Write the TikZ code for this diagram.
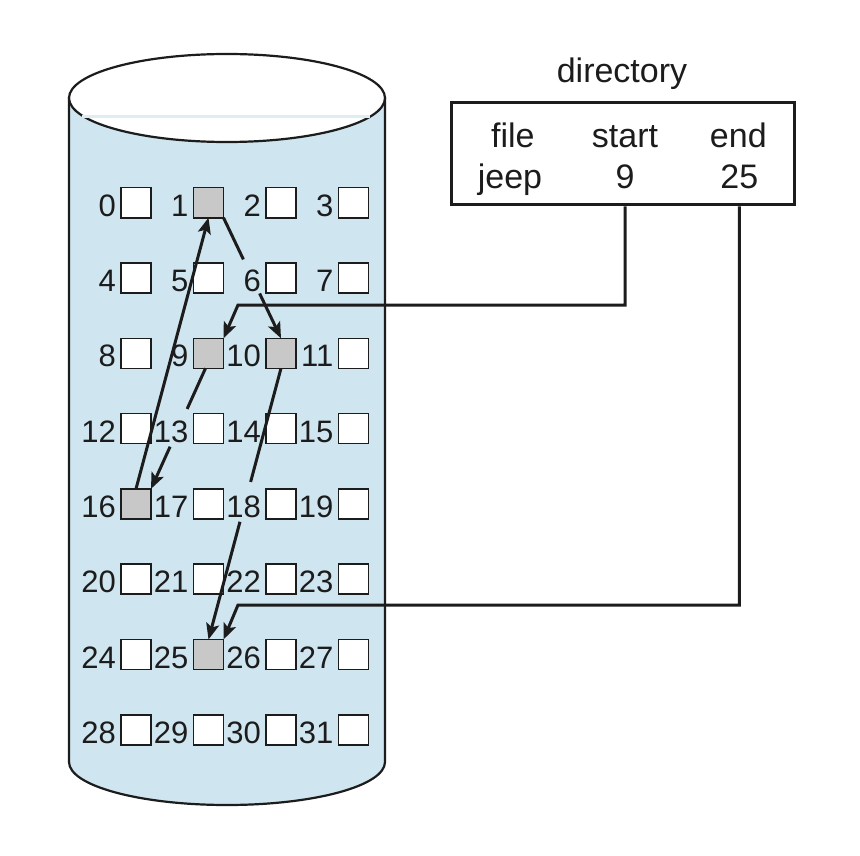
\documentclass[tikz,border=0pt]{standalone}
\usepackage{fontspec}
\setmainfont{Liberation Sans}
\usetikzlibrary{arrows.meta,calc}
\definecolor{cylblue}{RGB}{207,229,239}
\definecolor{cylline}{RGB}{222,237,244}
\definecolor{cellgray}{RGB}{200,200,200}
\definecolor{ink}{RGB}{28,28,28}
\tikzset{
  cell/.style={draw=ink, line width=1.6pt, fill=white, minimum size=30pt, inner sep=0pt, outer sep=0pt},
  used/.style={fill=cellgray},
  numlabel/.style={font=\fontsize{31}{36}\selectfont, text=ink, inner sep=0pt, anchor=base east},
  dirtext/.style={font=\fontsize{34}{40}\selectfont, text=ink, inner sep=0pt, anchor=base},
  linkline/.style={draw=ink, line width=3pt},
  link/.style={linkline, -{Stealth[length=16pt,width=13pt,inset=3.5pt]}},
}
\begin{document}
\begin{tikzpicture}[x=1pt,y=-1pt]
\useasboundingbox (0,0) rectangle (860,856);
% cylinder body
\draw[fill=cylblue, draw=ink, line width=2.2pt]
  (385,98) -- (385,762) arc[start angle=0, end angle=-180, x radius=158pt, y radius=43pt] -- (69,98) -- cycle;
% top
\draw[fill=white, draw=ink, line width=2.2pt] (227,98) ellipse [x radius=158pt, y radius=44pt];
\draw[draw=cylline, line width=3pt] (82,117) -- (370,117);
% cells
\foreach \i in {0,...,31}{
  \pgfmathtruncatemacro{\c}{mod(\i,4)}
  \pgfmathtruncatemacro{\r}{int(\i/4)}
  \pgfmathsetmacro{\cx}{136+72.5*\c}
  \pgfmathsetmacro{\cy}{202.7+75.3*\r}
  \node[cell] (b\i) at (\cx,\cy) {};
  \node[numlabel, xshift=-5pt, yshift=1.5pt] (l\i) at (b\i.south west) {\i};
}
\foreach \i in {1,9,10,16,25}{ \node[cell,used] at (b\i) {}; }
% directory
\node[dirtext] (dirtitle) at (622,83) {directory};
\node[draw=ink, line width=3pt, minimum width=343pt, minimum height=102pt, inner sep=0pt] (dir) at (622.85,153.85) {};
\node[dirtext] (hfile) at (512.8,147.3) {file};
\node[dirtext] (hstart) at (625,147.3) {start};
\node[dirtext] (hend) at (738.3,147.3) {end};
\node[dirtext] (vjeep) at (510,189) {jeep};
\node[dirtext] (vstart) at (625,189) {9};
\node[dirtext] (vend) at (739.3,189) {25};
\coordinate (s1) at (238,305);
\coordinate (e1) at (238,605);
\draw[link] (dir.south -| vstart) -- (vstart |- s1) -- (s1) -- (b9.north east);
\draw[link] (dir.south -| vend) -- (vend |- e1) -- (e1) -- (b25.north east);
% chain 9 -> 16 -> 1 -> 10 -> 25
\coordinate (c9) at ([xshift=-3pt]b9.south);
\draw[linkline] (c9) -- ($(c9)!0.337!(b16.north east)$);
\draw[link] ($(c9)!0.65!(b16.north east)$) -- (b16.north east);
\draw[link] (b16.north) -- (b1.south);
\draw[linkline] (b1.south east) -- ($(b1.south east)!0.346!(b10.north)$);
\draw[link] ($(b1.south east)!0.628!(b10.north)$) -- (b10.north);
\draw[linkline] (b10.south) -- ($(b10.south)!0.419!(b25.north)$);
\draw[link] ($(b10.south)!0.566!(b25.north)$) -- (b25.north);
\end{tikzpicture}
\end{document}
